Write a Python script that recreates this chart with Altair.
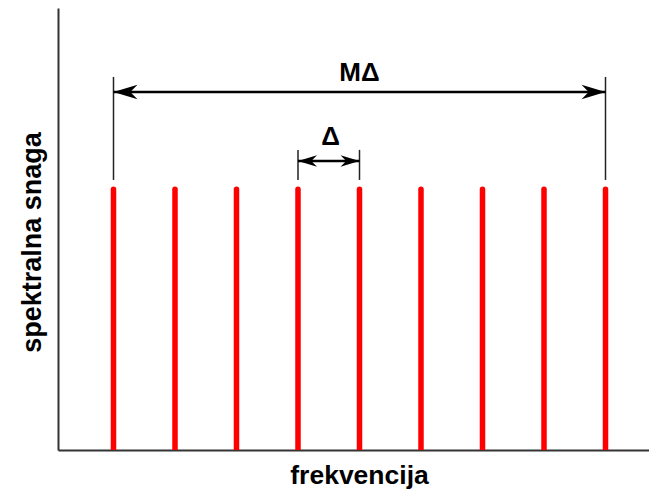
import altair as alt
import pandas as pd

# --- data ---------------------------------------------------------------
comb_freq = [1, 2, 3, 4, 5, 6, 7, 8, 9]
comb_power = [5.9, 5.9, 5.9, 5.9, 5.9, 5.9, 5.9, 5.9, 5.9]
comb_base = [0, 0, 0, 0, 0, 0, 0, 0, 0]

span_labels = ["MΔ", "Δ"]
span_start = [1, 4]
span_end = [9, 5]
span_level = [8.10, 6.54]
ext_top = [8.44, 6.79]
ext_bottom = [6.11, 6.11]
label_x = [5, 4.53]
label_y = [8.35, 6.90]
label_size = [26, 26]
head_size = [576, 361]

x_title = "frekvencija"
y_title = "spektralna snaga"

FONT = "Liberation Sans"

comb = pd.DataFrame({"freq": comb_freq, "power": comb_power, "base": comb_base})
spans = pd.DataFrame({
    "label": span_labels, "start": span_start, "end": span_end,
    "level": span_level, "top": ext_top, "bottom": ext_bottom,
    "lx": label_x, "ly": label_y, "fs": label_size, "hs": head_size,
})
ext = pd.DataFrame({
    "x": span_start + span_end,
    "top": ext_top + ext_top,
    "bottom": ext_bottom + ext_bottom,
})

xscale = alt.Scale(domain=[0.0976, 9.7073], nice=False, zero=False)
yscale = alt.Scale(domain=[0, 10], nice=False)

xaxis = alt.Axis(
    title=x_title, labels=False, ticks=False, grid=False,
    domainColor="#333333", domainWidth=2,
    titleFont=FONT, titleFontSize=26.5, titleFontWeight="bold", titleColor="black",
    titleX=301, titleY=33, titleAlign="center", titleBaseline="alphabetic",
)
yaxis = alt.Axis(
    title=y_title, labels=False, ticks=False, grid=False,
    domainColor="#333333", domainWidth=2,
    titleFont=FONT, titleFontSize=27, titleFontWeight="bold", titleColor="black",
    titleX=-18, titleY=234, titleAngle=270, titleAlign="center", titleBaseline="alphabetic",
)


def X(field):
    return alt.X(field, type="quantitative", scale=xscale, axis=xaxis)


def Y(field):
    return alt.Y(field, type="quantitative", scale=yscale, axis=yaxis)


lines = alt.Chart(comb).mark_rule(color="#ff0000", strokeWidth=5.5, strokeCap="round", clip=True).encode(
    x=X("freq"), y=Y("base"), y2="power"
)

ext_lines = alt.Chart(ext).mark_rule(color="#222222", strokeWidth=1.5).encode(
    x=X("x"), y=Y("bottom"), y2="top"
)

shafts = alt.Chart(spans).mark_rule(color="black", strokeWidth=2.5).encode(
    x=X("start"), x2="end", y=Y("level")
)

left_heads = alt.Chart(spans).mark_point(
    shape="M0,0 L2,-0.6 L1.4,0 L2,0.6 Z", filled=True, color="black", opacity=1, strokeWidth=0
).encode(x=X("start"), y=Y("level"), size=alt.Size("hs:Q", scale=None, legend=None))

right_heads = alt.Chart(spans).mark_point(
    shape="M0,0 L-2,-0.6 L-1.4,0 L-2,0.6 Z", filled=True, color="black", opacity=1, strokeWidth=0
).encode(x=X("end"), y=Y("level"), size=alt.Size("hs:Q", scale=None, legend=None))

labels = alt.Chart(spans).mark_text(
    font=FONT, fontWeight="bold", color="black", align="center", baseline="alphabetic"
).encode(
    x=X("lx"), y=Y("ly"), text="label:N",
    size=alt.Size("fs:Q", scale=None, legend=None),
)

chart = alt.layer(lines, ext_lines, shafts, left_heads, right_heads, labels).properties(
    width=591, height=442,
    autosize=alt.AutoSizeParams(type="none"),
    padding={"left": 50, "top": 0, "right": 0, "bottom": 39},
).configure_view(stroke=None)

chart.save("out.html", embed_options={"renderer": "svg", "actions": False})
